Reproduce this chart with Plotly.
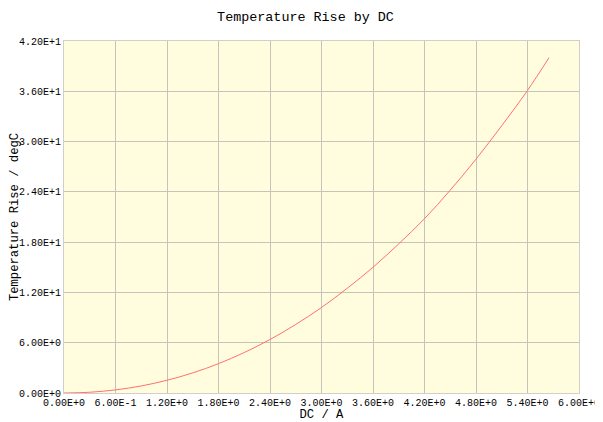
import plotly.graph_objects as go

current_a = [0.0, 0.3, 0.6, 0.9, 1.2, 1.5, 1.8, 2.1, 2.4, 2.7, 3.0, 3.3, 3.6, 3.9, 4.2, 4.5, 4.8, 5.1, 5.4, 5.65]
temp_rise = [0.0, 0.09, 0.37, 0.84, 1.52, 2.40, 3.50, 4.83, 6.38, 8.18, 10.2, 12.5, 15.0, 17.8,
             20.8, 24.2, 27.9, 31.9, 36.1, 40.0]

x_tickvals = [0.0, 0.6, 1.2, 1.8, 2.4, 3.0, 3.6, 4.2, 4.8, 5.4, 6.0]
x_ticktext = ["0.00E+0", "6.00E-1", "1.20E+0", "1.80E+0", "2.40E+0", "3.00E+0",
              "3.60E+0", "4.20E+0", "4.80E+0", "5.40E+0", "6.00E+0"]
y_tickvals = [0, 6, 12, 18, 24, 30, 36, 42]
y_ticktext = ["0.00E+0", "6.00E+0", "1.20E+1", "1.80E+1", "2.40E+1", "3.00E+1", "3.60E+1", "4.20E+1"]

font_family = "Liberation Mono, DejaVu Sans Mono, monospace"

# the page body has an 8px margin, so the figure is 8px smaller and offset
fig = go.Figure()
fig.add_trace(go.Scatter(
    x=current_a, y=temp_rise, mode="lines",
    line=dict(color="#ff7070", width=1, shape="spline"),
    showlegend=False,
))

fig.update_layout(
    width=595, height=414,
    margin=dict(l=56, r=24, t=33, b=29),
    paper_bgcolor="white",
    plot_bgcolor="#FFFDDE",
    font=dict(family=font_family, size=10, color="black"),
    title=dict(text="Temperature Rise by DC", x=0.5, xanchor="center",
               y=1 - 8 / 414, yanchor="middle", font=dict(size=13.4, family=font_family)),
)
fig.update_xaxes(
    range=[0, 6], tickvals=x_tickvals, ticktext=x_ticktext, automargin=False,
    showgrid=True, gridcolor="#c4c4bc", gridwidth=1,
    showline=True, linecolor="#d0d0c8", mirror=True,
    zeroline=False, ticks="", ticklabelstandoff=0,
    title=dict(text="DC / A", standoff=4, font=dict(size=12.2)),
)
fig.update_yaxes(
    range=[0, 42], tickvals=y_tickvals, ticktext=y_ticktext, automargin=False,
    showgrid=True, gridcolor="#c4c4bc", gridwidth=1,
    showline=True, linecolor="#d0d0c8", mirror=True,
    zeroline=False, ticks="", ticklabelstandoff=0,
    title=dict(text="Temperature Rise / degC", standoff=3, font=dict(size=12.2)),
)

fig.write_html("out.html")
